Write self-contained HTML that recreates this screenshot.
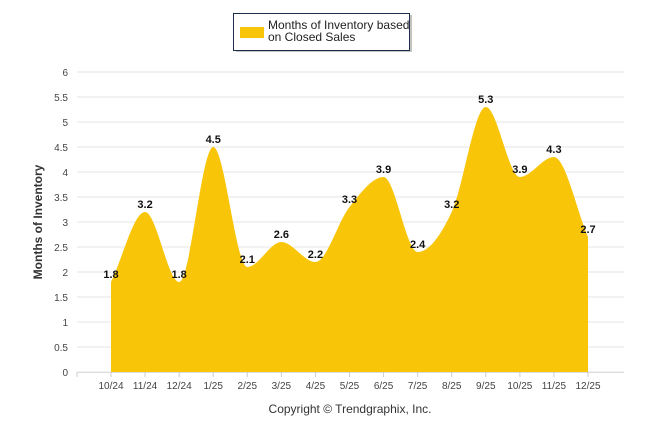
<!DOCTYPE html>
<html><head><meta charset="utf-8"><style>
body{margin:0;background:#fff;width:646px;height:434px;overflow:hidden;font-family:"Liberation Sans",sans-serif}
</style></head><body>
<svg id="chart" width="646" height="434" xmlns="http://www.w3.org/2000/svg">
<g>
<rect x="236" y="15" width="176" height="37" fill="#888" opacity="0.5"/>
<rect x="233.5" y="13.5" width="176" height="37" fill="#fff" stroke="#1f2d4d" stroke-width="1"/>
<rect x="240" y="27" width="24" height="11" fill="#F8C508"/>
<text x="268" y="29" font-size="12" fill="#222">Months of Inventory based</text>
<text x="268" y="41" font-size="12" fill="#222">on Closed Sales</text>
</g>
<g id="grid"></g>
<g id="area"></g>
<g id="xaxis"></g>
<g id="labels"></g>
<text transform="translate(42,222) rotate(-90)" text-anchor="middle" font-size="12" font-weight="bold" fill="#333">Months of Inventory</text>
<text x="350" y="413" text-anchor="middle" font-size="12" fill="#333">Copyright © Trendgraphix, Inc.</text>
</svg>
<script>
const categories=["10/24","11/24","12/24","1/25","2/25","3/25","4/25","5/25","6/25","7/25","8/25","9/25","10/25","11/25","12/25"];
const values=[1.8,3.2,1.8,4.5,2.1,2.6,2.2,3.3,3.9,2.4,3.2,5.3,3.9,4.3,2.7];
const yTicks=[0,0.5,1,1.5,2,2.5,3,3.5,4,4.5,5,5.5,6];
const NS="http://www.w3.org/2000/svg";
const x0=111,dx=(588-111)/14,yBase=372,yScale=50,left=77,right=624;
const X=i=>x0+dx*i, Y=v=>yBase-v*yScale;
function mk(tag,attrs,parent,txt){const e=document.createElementNS(NS,tag);for(const k in attrs)e.setAttribute(k,attrs[k]);if(txt!==undefined)e.textContent=txt;parent.appendChild(e);return e;}
const grid=document.getElementById('grid');
yTicks.forEach(t=>{
 const l=mk('line',{x1:left,x2:right,y1:Y(t),y2:Y(t),stroke:'#e6e6e6','stroke-width':1},grid);
 
 
 const tx=mk('text',{x:68,y:Y(t)+4,'text-anchor':'end','font-size':10,fill:'#444'},grid,String(t));
 
 
});
// spline path
const pts=values.map((v,i)=>[X(i),Y(v)]);
let d=`M${pts[0][0]},${yBase} L${pts[0][0]},${pts[0][1]}`;
const s=1.5;
for(let i=0;i<pts.length-1;i++){
 const p0=pts[i],p1=pts[i+1];
 const pm=pts[i-1]||p0,pn=pts[i+2]||p1;
 let c1x=p0[0]+dx/3, c2x=p1[0]-dx/3;
 let c1y=p0[1]+(p1[1]-pm[1])/ ( (p1[0]-pm[0])||1 )*dx/3;
 let c2y=p1[1]-(pn[1]-p0[1])/((pn[0]-p0[0])||1)*dx/3;
 if(i===0)c1y=p0[1]+(p1[1]-p0[1])/3;
 if(i===pts.length-2)c2y=p1[1]-(p1[1]-p0[1])/3;
 // flatten at local extremes
 if(pts[i-1]&&((p0[1]<=pm[1]&&p0[1]<=p1[1])||(p0[1]>=pm[1]&&p0[1]>=p1[1])))c1y=p0[1];
 if(pts[i+2]&&((p1[1]<=p0[1]&&p1[1]<=pn[1])||(p1[1]>=p0[1]&&p1[1]>=pn[1])))c2y=p1[1];
 d+=` C${c1x},${c1y} ${c2x},${c2y} ${p1[0]},${p1[1]}`;
}
d+=` L${pts[pts.length-1][0]},${yBase} Z`;
const area=mk('path',{d:d,fill:'#F8C508'},document.getElementById('area'));


const xa=document.getElementById('xaxis');
const axl=mk('line',{x1:left,x2:right,y1:yBase+0.5,y2:yBase+0.5,stroke:'#ddd'},xa);


const t0=mk('line',{x1:left,x2:left,y1:yBase,y2:yBase+5,stroke:'#ccc'},xa);


categories.forEach((c,i)=>{
 const t=mk('line',{x1:X(i),x2:X(i),y1:yBase,y2:yBase+5,stroke:'#ccc'},xa);
 
 
 const tx=mk('text',{x:X(i),y:389,'text-anchor':'middle','font-size':10,fill:'#444'},xa,c);
 
 
});
const lg=document.getElementById('labels');
values.forEach((v,i)=>{
 const tx=mk('text',{x:X(i),y:Y(v)-4,'text-anchor':'middle','font-size':11,'font-weight':'bold',fill:'#111'},lg,v.toFixed(1));
 
 
});
</script>
</body></html>
